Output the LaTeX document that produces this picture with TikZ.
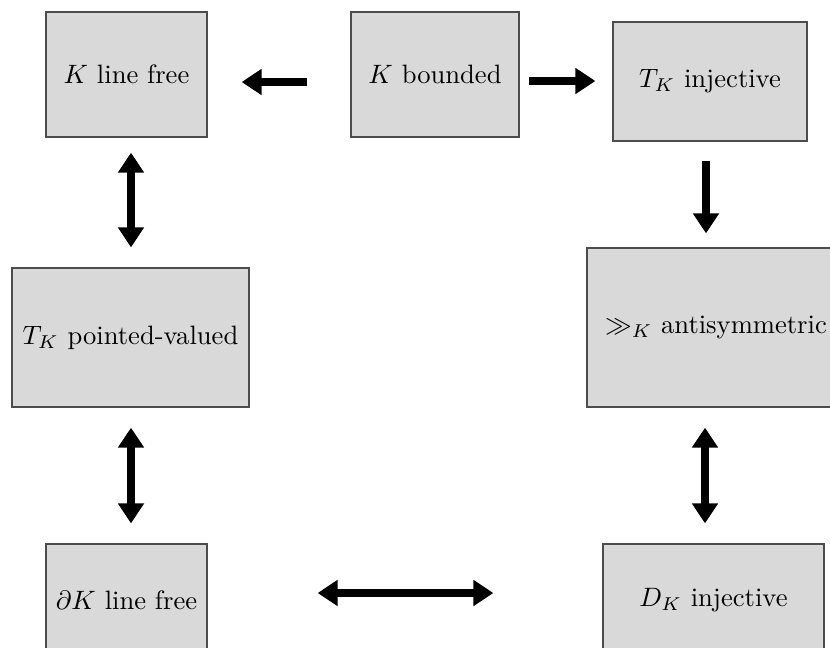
\documentclass[tikz,border=0pt]{standalone}
\usepackage{amssymb}
\usetikzlibrary{arrows.meta,calc}
\definecolor{boxgray}{RGB}{217,217,217}
\begin{document}
\begin{tikzpicture}[x=0.376pt,y=-0.376pt,
  box/.style={draw=black!70,line width=0.5pt,fill=boxgray,inner sep=0pt,anchor=center},
  arr/.style={line width=3pt,-{Triangle[length=7.5pt,width=9.4pt]}},
  darr/.style={line width=3pt,{Triangle[length=7.5pt,width=9.4pt]}-{Triangle[length=7.5pt,width=9.4pt]}}]
\useasboundingbox (0,0) rectangle (830,647);
\clip (0,0) rectangle (830,647);
\node[box,minimum width=161*0.376pt,minimum height=125*0.376pt] (a) at (126.5,74.5) {$K$ line free};
\node[box,minimum width=168*0.376pt,minimum height=125*0.376pt] (b) at (435,74.5) {$K$ bounded};
\node[box,minimum width=194*0.376pt,minimum height=119*0.376pt] (c) at (710,81.5) {$T_K$ injective};
\node[box,minimum width=237*0.376pt,minimum height=139*0.376pt] (d) at (130.5,337.5) {$T_K$ pointed-valued};
\node[box,minimum width=258*0.376pt,minimum height=159*0.376pt] (e) at (716,327.5) {$\gg_K$ antisymmetric};
\node[box,minimum width=161*0.376pt,minimum height=112*0.376pt] (f) at (126.5,600) {$\partial K$ line free};
\node[box,minimum width=221*0.376pt,minimum height=112*0.376pt] (g) at (713.5,600) {$D_K$ injective};
\draw[arr] ($(b.west |- 0,82)+(-43,0)$) -- ($(a.east |- 0,82)+(34,0)$);
\draw[arr] ($(b.east |- 0,81)+(9,0)$) -- ($(c.west |- 0,81)+(-17,0)$);
\draw[arr] ($(c.south -| 706,0)+(0,19)$) -- ($(e.north -| 706,0)+(0,-14)$);
\draw[darr] ($(a.south -| 131,0)+(0,15)$) -- ($(d.north -| 131,0)+(0,-20)$);
\draw[darr] ($(d.south -| 131,0)+(0,20)$) -- ($(f.north -| 131,0)+(0,-20)$);
\draw[darr] ($(e.south -| 705,0)+(0,20)$) -- ($(g.north -| 705,0)+(0,-20)$);
\draw[darr] ($(f.east |- 0,593)+(110,0)$) -- ($(g.west |- 0,593)+(-109,0)$);
\end{tikzpicture}
\end{document}
